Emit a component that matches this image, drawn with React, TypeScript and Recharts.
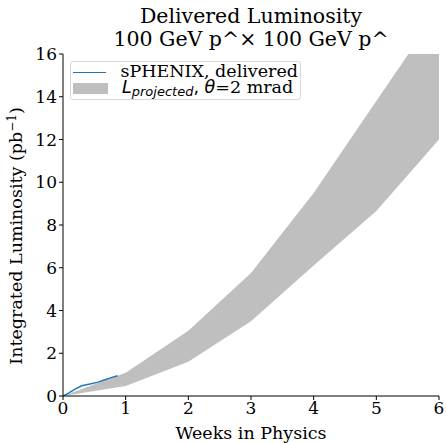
import React from 'react';
import { ComposedChart, Area, Line, XAxis, YAxis } from 'recharts';

// band: projected luminosity range, per week
const bandWeeks = [0, 1, 2, 3, 4, 5, 6];
const bandLow = [0, 0.47, 1.6, 3.5, 6.1, 8.65, 12.0];
const bandHigh = [0, 1.09, 3.05, 5.75, 9.5, 13.8, 18.1];

// delivered so far
const deliveredWeeks = [0, 0.1, 0.2, 0.3, 0.43, 0.56, 0.67, 0.77, 0.87];
const deliveredLumi = [0, 0.16, 0.33, 0.48, 0.56, 0.65, 0.76, 0.86, 0.95];

const xTicks = [0, 1, 2, 3, 4, 5, 6];
const yTicks = [0, 2, 4, 6, 8, 10, 12, 14, 16];

const bandData = bandWeeks.map((w, i) => ({ week: w, range: [bandLow[i], bandHigh[i]] }));
const lineData = deliveredWeeks.map((w, i) => ({ week: w, lumi: deliveredLumi[i] }));

const serif = '"DejaVu Serif", serif';
const mathSans = '"DejaVu Sans", sans-serif';

const LegendBox = () => (
  <div
    style={{
      position: 'absolute',
      left: 70,
      top: 61,
      fontFamily: serif,
      fontSize: 17.5,
      lineHeight: 1,
      color: '#000',
      background: 'rgba(255,255,255,0.8)',
      border: '1px solid #d8d8d8',
      borderRadius: 3,
      padding: '2px 2px 3px 2px',
      width: 225,
    }}
  >
    <div style={{ display: 'flex', alignItems: 'center', height: 16, whiteSpace: 'nowrap' }}>
      <span style={{ display: 'inline-block', width: 35, height: 0, borderTop: '1.5px solid #1f77b4', marginRight: 14 }} />
      <span>sPHENIX, delivered</span>
    </div>
    <div style={{ display: 'flex', alignItems: 'center', height: 16, whiteSpace: 'nowrap' }}>
      <span style={{ display: 'inline-block', width: 35, height: 11, background: '#bfbfbf', marginRight: 14 }} />
      <span>
        <i style={{ fontFamily: mathSans }}>L</i>
        <span style={{ fontFamily: mathSans, fontStyle: 'italic', fontSize: 13, position: 'relative', top: 3 }}>projected</span>
        <span style={{ fontFamily: mathSans }}>, </span>
        <i style={{ fontFamily: mathSans }}>θ</i>=2 mrad
      </span>
    </div>
  </div>
);

const YLabel = () => (
  <text
    x={22}
    y={236}
    transform="rotate(-90, 22, 236)"
    textAnchor="middle"
    fontFamily={serif}
    fontSize={17.5}
    fill="#000"
  >
    Integrated Luminosity (pb
    <tspan dy={-6} fontSize={12}>−1</tspan>
    <tspan dy={6}>)</tspan>
  </text>
);

const App = () => {
  return (
    <div style={{ position: 'absolute', left: 0, top: 0, width: 446, height: 443, background: '#fff' }}>
      <div
        style={{
          position: 'absolute',
          left: 63,
          width: 376,
          top: 5,
          textAlign: 'center',
          fontFamily: serif,
          fontSize: 20.5,
          lineHeight: '23px',
          color: '#000',
        }}
      >
        Delivered Luminosity
        <br />
        100 GeV p^× 100 GeV p^
      </div>
      <ComposedChart
        width={446}
        height={443}
        margin={{ top: 54, right: 7, left: 0, bottom: 0 }}
        data={bandData}
      >
        <XAxis
          xAxisId="b"
          type="number"
          dataKey="week"
          domain={[0, 6]}
          ticks={xTicks}
          allowDataOverflow
          height={47}
          axisLine={{ stroke: '#000', strokeWidth: 1 }}
          tickLine={{ stroke: '#000' }}
          tickSize={4}
          tick={{ fill: '#000', fontFamily: serif, fontSize: 17 }}
          label={{ value: 'Weeks in Physics', position: 'insideBottom', offset: 4, fill: '#000', fontFamily: serif, fontSize: 17.5 }}
        />
        <XAxis
          xAxisId="t"
          orientation="top"
          type="number"
          domain={[0, 6]}
          height={0}
          tick={false}
          tickLine={false}
          axisLine={{ stroke: '#000', strokeWidth: 1 }}
        />
        <YAxis
          yAxisId="l"
          type="number"
          domain={[0, 16]}
          ticks={yTicks}
          allowDataOverflow
          width={63}
          axisLine={{ stroke: '#000', strokeWidth: 1 }}
          tickLine={{ stroke: '#000' }}
          tickSize={4}
          tick={{ fill: '#000', fontFamily: serif, fontSize: 17 }}
          label={<YLabel />}
        />
        <YAxis
          yAxisId="r"
          orientation="right"
          type="number"
          domain={[0, 16]}
          width={0}
          tick={false}
          tickLine={false}
          axisLine={{ stroke: '#000', strokeWidth: 1 }}
        />
        <Area
          xAxisId="b"
          yAxisId="l"
          dataKey="range"
          type="linear"
          stroke="none"
          fill="#bfbfbf"
          fillOpacity={1}
          isAnimationActive={false}
        />
        <Line
          xAxisId="b"
          yAxisId="l"
          data={lineData}
          dataKey="lumi"
          type="linear"
          stroke="#1f77b4"
          strokeWidth={1.5}
          dot={false}
          isAnimationActive={false}
        />
      </ComposedChart>
      <LegendBox />
    </div>
  );
};

export default App;
